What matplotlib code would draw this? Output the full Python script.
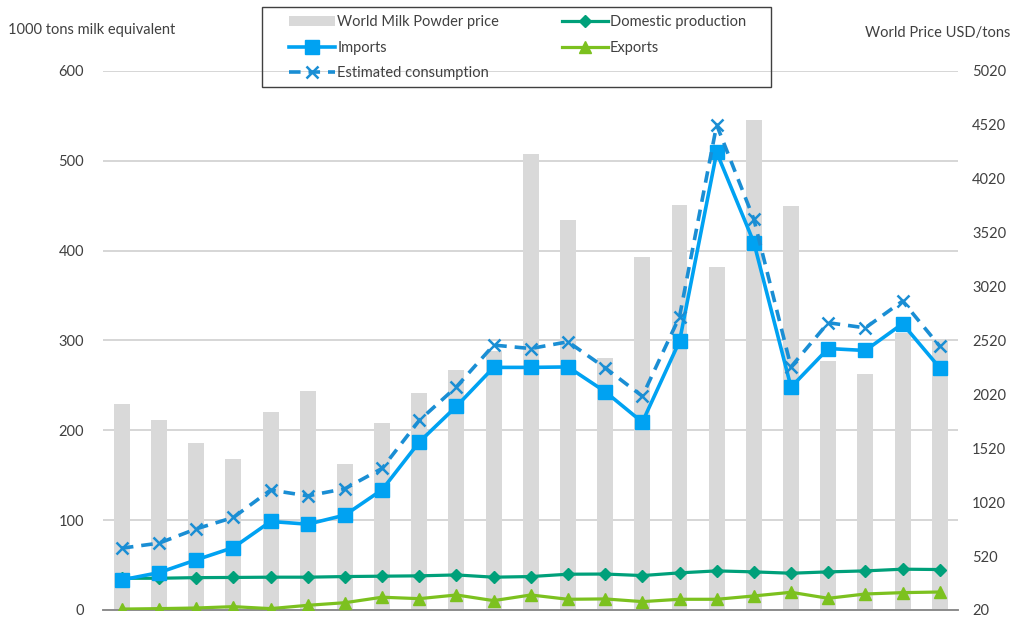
import matplotlib
matplotlib.use('Agg')
import matplotlib.pyplot as plt
from matplotlib.patches import Rectangle
from matplotlib.ticker import MultipleLocator

plt.rcParams['font.family'] = ['Lato', 'DejaVu Sans']

# Dados
years = list(range(1996, 2019))
price = [1934, 1778, 1566, 1417, 1853, 2049, 1374, 1757, 2028, 2250, 2420,
         4245, 3637, 2353, 3291, 3778, 3203, 4562, 3770, 2328, 2212, 2592, 2533]
domestic = [35.3, 35.3, 36.0, 36.2, 36.5, 36.5, 37.2, 37.6, 38.0, 39.0, 36.5,
            37.2, 39.8, 40.0, 38.3, 41.3, 43.5, 42.4, 40.9, 42.4, 43.5, 45.4, 45.0]
imports = [33.5, 41.6, 55.8, 69.5, 98.5, 95.5, 105.6, 133.8, 187.0, 226.7, 270.0,
           270.0, 270.5, 243.0, 209.0, 299.0, 509.3, 409.0, 248.0, 291.0, 288.8, 318.6, 269.5]
exports = [1.0, 1.5, 2.2, 3.7, 1.5, 5.2, 8.1, 14.2, 12.6, 16.7, 10.4,
           16.7, 11.9, 12.3, 9.3, 11.9, 11.9, 15.6, 19.7, 13.0, 17.8, 19.3, 20.0]
consumption = [68.8, 74.4, 90.3, 103.0, 133.5, 127.0, 135.0, 157.6, 211.0, 248.4, 294.8,
               291.0, 298.5, 269.5, 237.9, 326.4, 539.8, 435.0, 270.6, 319.7, 314.0, 343.8, 293.6]

left_ticks = list(range(0, 601, 100))
right_ticks = list(range(20, 5021, 500))

txt = '#404040'
grid_c = '#d0d0d0'

W, H = 1013, 641
fig = plt.figure(figsize=(W / 100, H / 100), dpi=100)
ax_bar = fig.add_axes([0.102, 0.0484, 0.844, 0.841])
ax = ax_bar.twinx()

# Barras de preço (eixo da direita)
ax_bar.bar(years, price, width=0.43, color='#d9d9d9', zorder=2,
           label='World Milk Powder price')
ax_bar.set_ylim(20, 5020)
ax_bar.yaxis.tick_right()
ax_bar.set_yticks(right_ticks)

# Linhas de grade alinhadas ao eixo da esquerda
for t in left_ticks:
    ax_bar.axhline(20 + t * 5000 / 600, color=grid_c, lw=1.2, zorder=1)

# Linhas (eixo da esquerda)
ax.plot(years, domestic, color='#00a07a', lw=2.3, marker='D', ms=6.5,
        label='Domestic production', zorder=3)
ax.plot(years, exports, color='#7cc11f', lw=2.3, marker='^', ms=8.5,
        label='Exports', zorder=3)
ax.plot(years, imports, color='#00a2f2', lw=2.6, marker='s', ms=9.5,
        label='Imports', zorder=4)
ax.plot(years, consumption, color='#1a8ed4', lw=2.6, ls=(0, (3.2, 2.2)), marker='x',
        ms=9, mew=1.8, label='Estimated consumption', zorder=5)
ax.set_ylim(0, 600)
ax.yaxis.tick_left()
ax.set_yticks(left_ticks)

ax.set_xlim(1995.5, 2018.5)
ax.set_xticks(years[::2])
ax.xaxis.set_minor_locator(MultipleLocator(1, offset=0.5))

for a in (ax, ax_bar):
    for s in ('top', 'left', 'right'):
        a.spines[s].set_visible(False)
    a.spines['bottom'].set_color('#8c8c8c')
    a.spines['bottom'].set_linewidth(1.2)
    a.tick_params(axis='y', length=0, labelsize=10.5, labelcolor=txt)
ax.tick_params(axis='y', pad=14)
ax_bar.tick_params(axis='y', pad=10)
ax.tick_params(axis='x', which='major', length=0, labelsize=10.5, labelcolor=txt, pad=7)
ax.tick_params(axis='x', which='minor', length=5, width=1.2, color='#8c8c8c')
ax_bar.tick_params(axis='x', which='both', length=0, labelbottom=False)

fig.text(0.008, 1 - 30 / H, '1000 tons milk equivalent', fontsize=10.5, color=txt,
         ha='left', va='center')
fig.text(0.997, 1 - 33 / H, 'World Price USD/tons', fontsize=10.5, color=txt,
         ha='right', va='center')

# Legenda
h1, l1 = ax_bar.get_legend_handles_labels()
h2, l2 = ax.get_legend_handles_labels()
handles = [h1[0], h2[2], h2[3], h2[0], h2[1]]
labels = [l1[0], l2[2], l2[3], l2[0], l2[1]]
leg = fig.legend(handles, labels, ncol=2, loc='upper left',
                 bbox_to_anchor=(289 / W, 1 - 15 / H), fontsize=10.5, frameon=False,
                 handlelength=3.15, handletextpad=0.15, columnspacing=4.3,
                 labelspacing=0.8, borderpad=0, borderaxespad=0)
for t in leg.get_texts():
    t.set_color(txt)
fig.add_artist(Rectangle((262 / W, 1 - 87 / H), 509 / W, 80 / H, transform=fig.transFigure,
                         fill=False, ec='#404040', lw=1.0))

fig.savefig('out.png', dpi=100)
